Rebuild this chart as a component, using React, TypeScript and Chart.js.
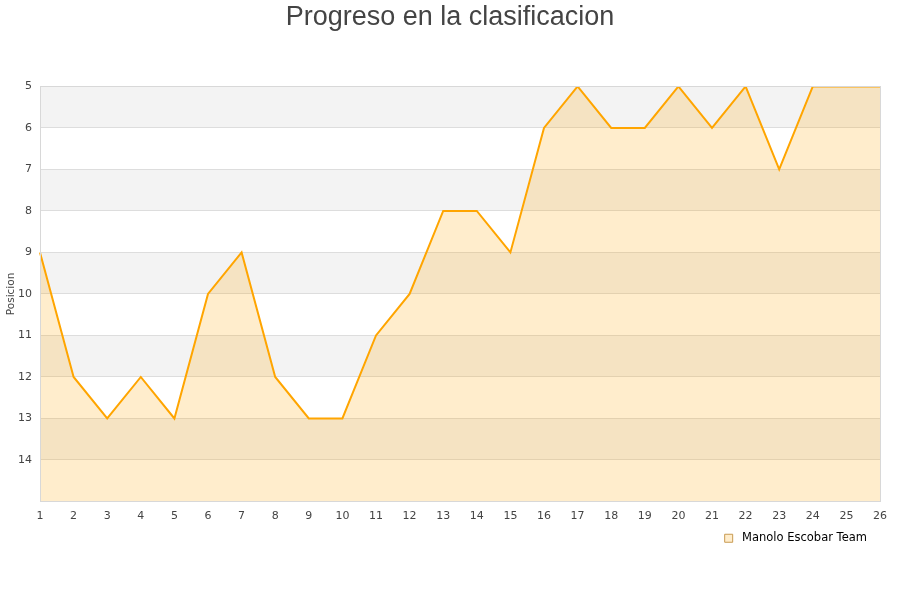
import React, { useEffect, useRef } from "react";
import { Chart, registerables } from "chart.js";

Chart.register(...registerables);

const jornadas: string[] = ["1","2","3","4","5","6","7","8","9","10","11","12","13","14","15","16","17","18","19","20","21","22","23","24","25","26"];
const posiciones: number[] = [9,12,13,12,13,10,9,12,13,13,11,10,8,8,9,6,5,6,6,5,6,5,7,5,5,5];
const teamName = "Manolo Escobar Team";
const chartTitle = "Progreso en la clasificacion";
const yTitle = "Posicion";

const bandPlugin = {
  id: "bands",
  afterLayout(chart: any) {
    if (chart.legend) {
      chart.legend.left -= 7;
      chart.legend.right -= 7;
    }
    if (chart.titleBlock) {
      chart.titleBlock.left += 10;
      chart.titleBlock.right += 10;
    }
  },
  beforeDraw(chart: any) {
    const { ctx, chartArea, scales } = chart;
    const y = scales.y;
    ctx.save();
    ctx.fillStyle = "#ffffff";
    ctx.fillRect(chartArea.left, chartArea.top, chartArea.right - chartArea.left, chartArea.bottom - chartArea.top);
    for (let v = y.min; v < y.max; v++) {
      if ((v - y.min) % 2 === 0) {
        const t = y.getPixelForValue(v);
        const b = y.getPixelForValue(v + 1);
        ctx.fillStyle = "#f3f3f3";
        ctx.fillRect(chartArea.left, Math.min(t, b), chartArea.right - chartArea.left, Math.abs(b - t));
      }
    }
    ctx.restore();
  },
  afterDraw(chart: any) {
    const { ctx, chartArea } = chart;
    ctx.save();
    ctx.strokeStyle = "#d8d8d8";
    ctx.lineWidth = 1;
    ctx.strokeRect(Math.round(chartArea.left) + 0.5, Math.round(chartArea.top) + 0.5, Math.round(chartArea.right - chartArea.left), Math.round(chartArea.bottom - chartArea.top));
    ctx.restore();
  },
};

export default function App() {
  const ref = useRef<HTMLCanvasElement | null>(null);
  useEffect(() => {
    document.body.style.margin = "0";
    const chart = new Chart(ref.current as HTMLCanvasElement, {
      type: "line",
      data: {
        labels: jornadas,
        datasets: [
          {
            label: teamName,
            data: posiciones,
            borderColor: "#ffa500",
            backgroundColor: "rgba(255,165,0,0.2)",
            borderWidth: 2,
            pointRadius: 0,
            tension: 0,
            fill: { value: 15 },
          },
        ],
      },
      options: {
        animation: false,
        responsive: false,
        layout: { padding: { top: 0, right: 20, bottom: 46, left: 0 } },
        plugins: {
          title: {
            display: true,
            text: chartTitle,
            color: "#444",
            font: { family: "Liberation Sans", size: 27, weight: "normal" },
            padding: { top: 1, bottom: 53 },
          },
          legend: {
            display: true,
            position: "bottom",
            align: "end",
            labels: {
              boxWidth: 8,
              boxHeight: 8,
              color: "#000",
              font: { family: "DejaVu Sans", size: 11.5 },
              padding: 6,
              generateLabels: (c: any) =>
                Chart.defaults.plugins.legend.labels.generateLabels(c).map((l: any) => ({
                  ...l,
                  text: " " + l.text,
                  fillStyle: "rgba(255,165,0,0.2)",
                  strokeStyle: "#c89a50",
                  lineWidth: 1,
                })),
            },
          },
          tooltip: { enabled: false },
        },
        scales: {
          x: {
            offset: false,
            afterFit: (s: any) => {
              s.height = 25;
            },
            grid: { display: false },
            border: { display: false },
            ticks: {
              color: "#444",
              font: { family: "DejaVu Sans", size: 11 },
              maxRotation: 0,
              autoSkip: false,
              padding: 0,
            },
          },
          y: {
            reverse: true,
            min: 5,
            max: 15,
            afterFit: (s: any) => {
              s.width = 40;
            },
            grid: { color: "#dddddd", drawTicks: false },
            border: { display: false },
            title: {
              display: true,
              text: yTitle,
              color: "#444",
              font: { family: "DejaVu Sans", size: 10.5 },
              padding: 5,
            },
            ticks: {
              stepSize: 1,
              color: "#444",
              font: { family: "DejaVu Sans", size: 11 },
              padding: 8,
              callback: (v: any) => (Number(v) === 15 ? "" : String(v)),
            },
          },
        },
      },
      plugins: [bandPlugin],
    } as any);
    return () => chart.destroy();
  }, []);
  return (
    <div style={{ position: "absolute", left: 0, top: 0, width: 900, height: 600 }}>
      <canvas ref={ref} width={900} height={600} style={{ width: 900, height: 600 }} />
    </div>
  );
}
